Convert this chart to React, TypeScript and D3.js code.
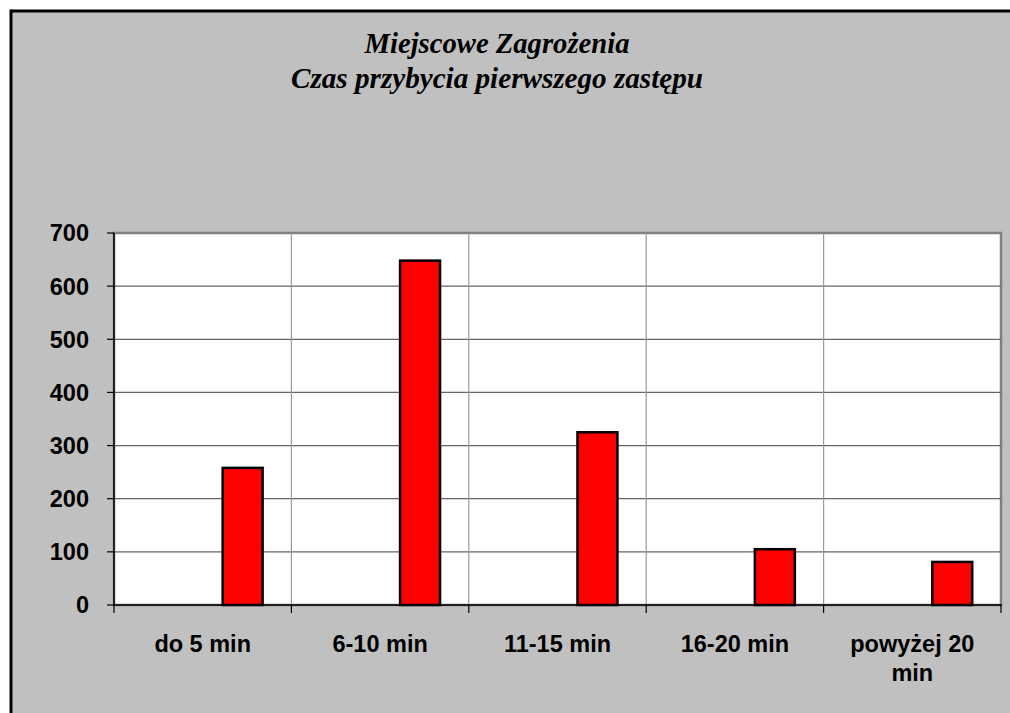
import React from "react";
import * as d3 from "d3";

const categories = ["do 5 min", "6-10 min", "11-15 min", "16-20 min", "powyżej 20 min"];
const categoryLabelLines = [["do 5 min"], ["6-10 min"], ["11-15 min"], ["16-20 min"], ["powyżej 20", "min"]];
const seriesKeys = ["s1", "s2", "s3"];
const values = [258, 648, 325, 105, 81];
const yTicks = [0, 100, 200, 300, 400, 500, 600, 700];
const titleLines = ["Miejscowe Zagrożenia", "Czas przybycia pierwszego zastępu"];

export default function App() {
  const W = 1010;
  const H = 713;
  const plot = { left: 114, right: 1001, top: 233, bottom: 605 };

  const x = d3.scaleBand<string>().domain(categories).range([plot.left, plot.right]).paddingInner(0).paddingOuter(0);
  const xs = d3.scaleBand<string>().domain(seriesKeys).range([0, x.bandwidth()]).paddingInner(0).paddingOuter(0.72);
  const y = d3.scaleLinear().domain([0, 700]).range([plot.bottom, plot.top]);

  const boundaries = categories.map((c) => x(c) as number).concat([plot.right]);
  const titleWidths = [265, 412];

  return (
    <svg width={W} height={H} style={{ position: "absolute", left: 0, top: 0 }}>
      <rect x={0} y={0} width={W} height={H} fill="#ffffff" />
      <rect x={11} y={11} width={W - 11} height={H - 11} fill="#c0c0c0" />
      <line x1={11} x2={W} y1={11} y2={11} stroke="#000" strokeWidth={3} />
      <line x1={11} x2={11} y1={9.5} y2={H} stroke="#000" strokeWidth={3} />
      {titleLines.map((t, i) => (
        <text
          key={i}
          x={497}
          y={53 + i * 35}
          textAnchor="middle"
          fontFamily="'Liberation Serif', 'Times New Roman', serif"
          fontStyle="italic"
          fontWeight="bold"
          fontSize={29}
          textLength={titleWidths[i]}
          lengthAdjust="spacingAndGlyphs"
          fill="#000"
        >
          {t}
        </text>
      ))}
      <rect x={plot.left} y={plot.top} width={plot.right - plot.left} height={plot.bottom - plot.top} fill="#fff" stroke="#808080" strokeWidth={2.5} />
      {yTicks.filter((t) => t > 0 && t < 700).map((t) => (
        <line key={t} x1={plot.left} x2={plot.right} y1={y(t)} y2={y(t)} stroke="#666" strokeWidth={1.2} />
      ))}
      {boundaries.slice(1, -1).map((b, i) => (
        <line key={i} x1={b} x2={b} y1={plot.top} y2={plot.bottom} stroke="#999" strokeWidth={1.2} />
      ))}
      {values.map((v, i) => (
        <rect
          key={i}
          x={(x(categories[i]) as number) + (xs("s3") as number)}
          y={y(v)}
          width={xs.bandwidth()}
          height={y(0) - y(v)}
          fill="#ff0000"
          stroke="#000"
          strokeWidth={2.5}
        />
      ))}
      <line x1={plot.left} x2={plot.left} y1={plot.top} y2={plot.bottom} stroke="#000" strokeWidth={1.5} />
      <line x1={plot.left} x2={plot.right + 1} y1={plot.bottom} y2={plot.bottom} stroke="#000" strokeWidth={1.5} />
      {yTicks.map((t) => (
        <g key={t}>
          <line x1={plot.left - 7} x2={plot.left} y1={y(t)} y2={y(t)} stroke="#000" strokeWidth={1.2} />
          <text
            x={89}
            y={y(t)}
            dy="0.36em"
            textAnchor="end"
            fontFamily="'Liberation Sans', Arial, sans-serif"
            fontWeight="bold"
            fontSize={23.5}
            fill="#000"
          >
            {t}
          </text>
        </g>
      ))}
      {boundaries.map((b, i) => (
        <line key={i} x1={b} x2={b} y1={plot.bottom} y2={plot.bottom + 8} stroke="#000" strokeWidth={1.2} />
      ))}
      {categories.map((c, i) => (
        <text
          key={c}
          x={(x(c) as number) + x.bandwidth() / 2}
          y={652}
          textAnchor="middle"
          fontFamily="'Liberation Sans', Arial, sans-serif"
          fontWeight="bold"
          fontSize={23.5}
          fill="#000"
        >
          {categoryLabelLines[i].map((l, j) => (
            <tspan key={j} x={(x(c) as number) + x.bandwidth() / 2} dy={j === 0 ? 0 : 29}>
              {l}
            </tspan>
          ))}
        </text>
      ))}
    </svg>
  );
}
